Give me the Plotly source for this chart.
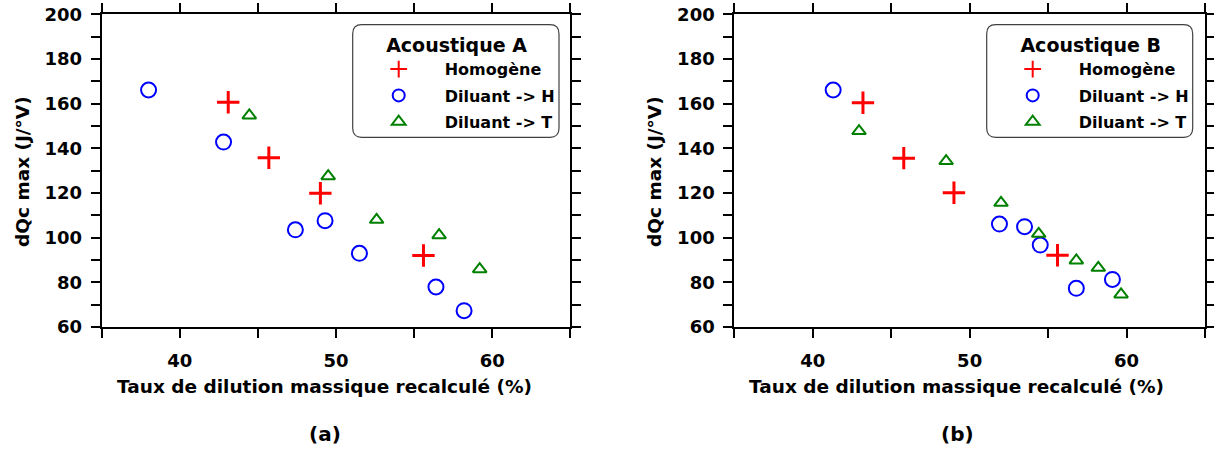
import plotly.graph_objects as go

# ---------------- data ----------------
x_range = [35, 65]
y_range = [60, 200]
x_tickvals = [35, 40, 45, 50, 55, 60, 65]
x_ticktext = ["", "40", "", "50", "", "60", ""]
y_tickvals = [60, 70, 80, 90, 100, 110, 120, 130, 140, 150, 160, 170, 180, 190, 200]
y_ticktext = ["60", "", "80", "", "100", "", "120", "", "140", "", "160", "", "180", "", "200"]

series_names = ["Homogène", "Diluant -> H", "Diluant -> T"]

# Acoustique A
a_homog_x = [43.1, 45.7, 49.0, 55.6]
a_homog_y = [160.6, 135.8, 119.9, 92.0]
a_dilH_x = [38.0, 42.8, 47.4, 49.3, 51.5, 56.4, 58.2]
a_dilH_y = [166.1, 142.8, 103.5, 107.6, 93.0, 77.9, 67.3]
a_dilT_x = [44.45, 49.5, 52.6, 56.6, 59.2]
a_dilT_y = [154.7, 127.5, 108.0, 101.1, 85.9]

# Acoustique B
b_homog_x = [43.2, 45.8, 49.0, 55.6]
b_homog_y = [160.4, 135.6, 120.1, 92.1]
b_dilH_x = [41.3, 51.9, 53.5, 54.5, 56.8, 59.1]
b_dilH_y = [166.1, 106.1, 104.9, 96.7, 77.3, 81.3]
b_dilT_x = [42.95, 48.5, 52.0, 54.4, 56.8, 58.2, 59.65]
b_dilT_y = [147.7, 134.3, 115.6, 101.7, 89.8, 86.5, 74.6]

# ---------------- styling ----------------
W, H = 1214, 453
FONT = "DejaVu Sans"
RED, BLUE, GREEN = "#ff0000", "#0000ff", "#008000"

def px_x(p):
    return p / W

def px_y(p):
    return 1 - p / H

fig = go.Figure()

def add_series(xs, ys, name, kind, xa, ya, legend, group):
    if kind == "plus":
        marker = dict(symbol="cross-thin-open", size=16, color=RED, line=dict(color=RED, width=3))
    elif kind == "circle":
        marker = dict(symbol="circle-open", size=15, color=BLUE, line=dict(color=BLUE, width=2))
    else:
        marker = dict(symbol="triangle-up-open", size=12, color=GREEN, line=dict(color=GREEN, width=2))
    fig.add_trace(go.Scatter(x=xs, y=ys, mode="markers", name=name, marker=marker,
                             xaxis=xa, yaxis=ya, legend=legend, legendgroup=group))

add_series(a_homog_x, a_homog_y, series_names[0], "plus", "x", "y", "legend", "a1")
add_series(a_dilH_x, a_dilH_y, series_names[1], "circle", "x", "y", "legend", "a2")
add_series(a_dilT_x, a_dilT_y, series_names[2], "tri", "x", "y", "legend", "a3")
add_series(b_homog_x, b_homog_y, series_names[0], "plus", "x2", "y2", "legend2", "b1")
add_series(b_dilH_x, b_dilH_y, series_names[1], "circle", "x2", "y2", "legend2", "b2")
add_series(b_dilT_x, b_dilT_y, series_names[2], "tri", "x2", "y2", "legend2", "b3")

tickfont = dict(family=FONT, size=18, color="black", weight="bold")
axis_common = dict(showline=True, linewidth=2, linecolor="black", mirror="allticks",
                   ticks="outside", ticklen=9, tickwidth=2, tickcolor="black",
                   showgrid=False, zeroline=False, tickfont=tickfont, automargin=False)

ydom = [px_y(327), px_y(14.3)]
xdom1 = [px_x(101.7), px_x(570.3)]
xdom2 = [px_x(734.3), px_x(1205)]

fig.update_layout(
    template="none",
    width=W, height=H,
    margin=dict(l=0, r=0, t=0, b=0, pad=0, autoexpand=False),
    paper_bgcolor="white", plot_bgcolor="white",
    xaxis=dict(domain=xdom1, range=[x_range[0] - 0.001, x_range[1] + 0.001], tickmode="array",
               tickvals=x_tickvals, ticktext=x_ticktext, anchor="y", ticklabelstandoff=7, **axis_common),
    yaxis=dict(domain=ydom, range=[y_range[0] - 0.001, y_range[1] + 0.001], tickmode="array",
               tickvals=y_tickvals, ticktext=y_ticktext, anchor="x", ticklabelstandoff=5, **axis_common),
    xaxis2=dict(domain=xdom2, range=[x_range[0] - 0.001, x_range[1] + 0.001], tickmode="array",
                tickvals=x_tickvals, ticktext=x_ticktext, anchor="y2", ticklabelstandoff=7, **axis_common),
    yaxis2=dict(domain=ydom, range=[y_range[0] - 0.001, y_range[1] + 0.001], tickmode="array",
                tickvals=y_tickvals, ticktext=y_ticktext, anchor="x2", ticklabelstandoff=5, **axis_common),
    showlegend=True,
)

legend_common = dict(
    xanchor="left", yanchor="top", bgcolor="rgba(0,0,0,0)", borderwidth=0,
    font=dict(family=FONT, size=16, color="black", weight="bold"),
    itemwidth=82, itemsizing="constant", tracegroupgap=2.5,
)
fig.update_layout(
    legend=dict(x=px_x(352.7), y=px_y(27.5),
                title=dict(text="Acoustique A", side="top center",
                           font=dict(family=FONT, size=19, color="black", weight="bold")),
                **legend_common),
    legend2=dict(x=px_x(986.7), y=px_y(27.5),
                 title=dict(text="Acoustique B", side="top center",
                            font=dict(family=FONT, size=19, color="black", weight="bold")),
                 **legend_common),
)

def rounded_rect(x0p, x1p, topp, botp, r=9):
    x0, x1 = px_x(x0p), px_x(x1p)
    y1, y0 = px_y(topp), px_y(botp)
    rx, ry = r / W, r / H
    return (f"M {x0+rx},{y1} L {x1-rx},{y1} Q {x1},{y1} {x1},{y1-ry} "
            f"L {x1},{y0+ry} Q {x1},{y0} {x1-rx},{y0} L {x0+rx},{y0} "
            f"Q {x0},{y0} {x0},{y0+ry} L {x0},{y1-ry} Q {x0},{y1} {x0+rx},{y1} Z")

for (x0p, x1p) in [(352.7, 559.0), (986.7, 1192.7)]:
    fig.add_shape(type="path", xref="paper", yref="paper",
                  path=rounded_rect(x0p, x1p, 24.7, 137.3),
                  line=dict(color="#404040", width=1.2), fillcolor="white", layer="above")

title_font = dict(family=FONT, size=18.5, color="black", weight="bold")
annots = [
    dict(text="Taux de dilution massique recalculé (%)", x=px_x(325), y=px_y(386), font=title_font),
    dict(text="Taux de dilution massique recalculé (%)", x=px_x(956), y=px_y(386), font=title_font),
    dict(text="dQc max (J/°V)", x=px_x(23), y=px_y(172), textangle=-90, font=title_font),
    dict(text="dQc max (J/°V)", x=px_x(655), y=px_y(172), textangle=-90, font=title_font),
    dict(text="(a)", x=px_x(325), y=px_y(434), font=dict(family=FONT, size=20, color="black", weight="bold")),
    dict(text="(b)", x=px_x(957), y=px_y(434), font=dict(family=FONT, size=20, color="black", weight="bold")),
]
for a in annots:
    fig.add_annotation(xref="paper", yref="paper", showarrow=False,
                       xanchor="center", yanchor="middle", **a)

fig.write_html("out.html",
               config={"displayModeBar": False},
               post_script="document.body.style.margin='0px';document.body.style.overflow='hidden';")
